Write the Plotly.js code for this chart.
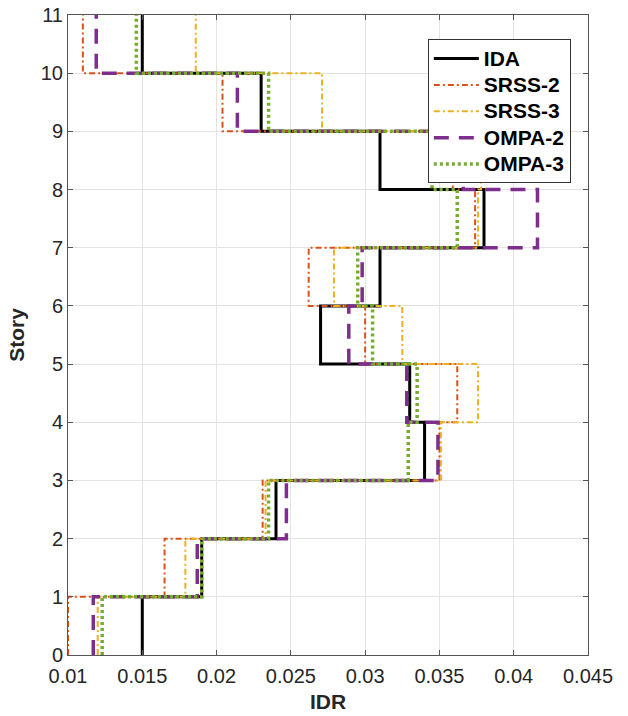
<!DOCTYPE html>
<html>
<head>
<meta charset="utf-8">
<script src="https://cdn.plot.ly/plotly-3.0.1.min.js"></script>
<style>html,body{margin:0;padding:0;background:#fff;}#chart{width:628px;height:716px;}</style>
</head>
<body>
<div id="chart"></div>
<script>
// Story levels (segment i spans story i-1 to i)
const stories = [0, 1, 2, 3, 4, 5, 6, 7, 8, 9, 10, 11];
const seriesNames = ["IDA", "SRSS-2", "SRSS-3", "OMPA-2", "OMPA-3"];
// IDR per story 1..11
const idaIDR   = [0.0150, 0.0190, 0.0240, 0.0340, 0.0330, 0.0270, 0.0310, 0.0380, 0.0310, 0.0230, 0.0150];
const srss2IDR = [0.0100, 0.0165, 0.0231, 0.0350, 0.0362, 0.0300, 0.0262, 0.0374, 0.0359, 0.0204, 0.0110];
const srss3IDR = [0.0120, 0.0179, 0.0233, 0.0351, 0.0376, 0.0325, 0.0279, 0.0376, 0.0378, 0.0271, 0.0186];
const ompa2IDR = [0.0117, 0.0187, 0.0247, 0.0349, 0.0328, 0.0289, 0.0298, 0.0416, 0.0366, 0.0214, 0.0119];
const ompa3IDR = [0.0123, 0.0190, 0.0235, 0.0329, 0.0335, 0.0305, 0.0295, 0.0362, 0.0345, 0.0235, 0.0146];
const xTicks = [0.01, 0.015, 0.02, 0.025, 0.03, 0.035, 0.04, 0.045];
const xTickText = ["0.01", "0.015", "0.02", "0.025", "0.03", "0.035", "0.04", "0.045"];
const yTicks = [0, 1, 2, 3, 4, 5, 6, 7, 8, 9, 10, 11];

const styles = [
  {color: "#000000", width: 3, dash: "solid"},
  {color: "#D95319", width: 2, dash: "6px,3px,2px,3px"},
  {color: "#EDB120", width: 2, dash: "6px,3px,2px,3px"},
  {color: "#7E2F8E", width: 3.5, dash: "15px,10px"},
  {color: "#77AC30", width: 3.5, dash: "3px,3px"}
];
const allData = [idaIDR, srss2IDR, srss3IDR, ompa2IDR, ompa3IDR];

const traces = allData.map((vals, k) => ({
  type: "scatter",
  mode: "lines",
  name: "<b><span style='font-size:21px'>" + seriesNames[k] + "</span></b>",
  x: vals.concat([vals[vals.length - 1]]),
  y: stories,
  line: {shape: "vh", color: styles[k].color, width: styles[k].width, dash: styles[k].dash},
  hoverinfo: "x+y+name"
}));

const fam = "'Liberation Sans', Arial, sans-serif";
const layout = {
  width: 628, height: 716,
  margin: {l: 68, r: 40, t: 15, b: 61},
  paper_bgcolor: "#ffffff",
  plot_bgcolor: "#ffffff",
  showlegend: true,
  font: {family: fam, size: 20, color: "#262626"},
  xaxis: {
    range: [0.01, 0.045],
    tickvals: xTicks, ticktext: xTickText,
    ticks: "inside", ticklen: 5, tickcolor: "#555",
    showline: true, linecolor: "#555", linewidth: 1, mirror: "ticks",
    showgrid: true, gridcolor: "#e3e3e3", gridwidth: 1,
    zeroline: false,
    ticklabelstandoff: 3,
    tickfont: {family: fam, size: 20, color: "#262626"},
    title: {text: "<b>IDR</b>", font: {family: fam, size: 21, color: "#262626"}, standoff: 8}
  },
  yaxis: {
    range: [0, 11],
    tickvals: yTicks,
    ticks: "inside", ticklen: 5, tickcolor: "#555",
    showline: true, linecolor: "#555", linewidth: 1, mirror: "ticks",
    showgrid: true, gridcolor: "#e3e3e3", gridwidth: 1,
    zeroline: false,
    tickfont: {family: fam, size: 20, color: "#262626"},
    title: {text: "<b>Story</b>", font: {family: fam, size: 21, color: "#262626"}, standoff: 10}
  },
  legend: {
    x: 0.692, y: 0.962, xanchor: "left", yanchor: "top",
    bgcolor: "#ffffff", bordercolor: "#333", borderwidth: 1,
    font: {family: fam, size: 18, color: "#000"},
    itemwidth: 45,
    tracegroupgap: 0
  }
};

Plotly.newPlot("chart", traces, layout, {displayModeBar: false, staticPlot: true});
</script>
</body>
</html>
